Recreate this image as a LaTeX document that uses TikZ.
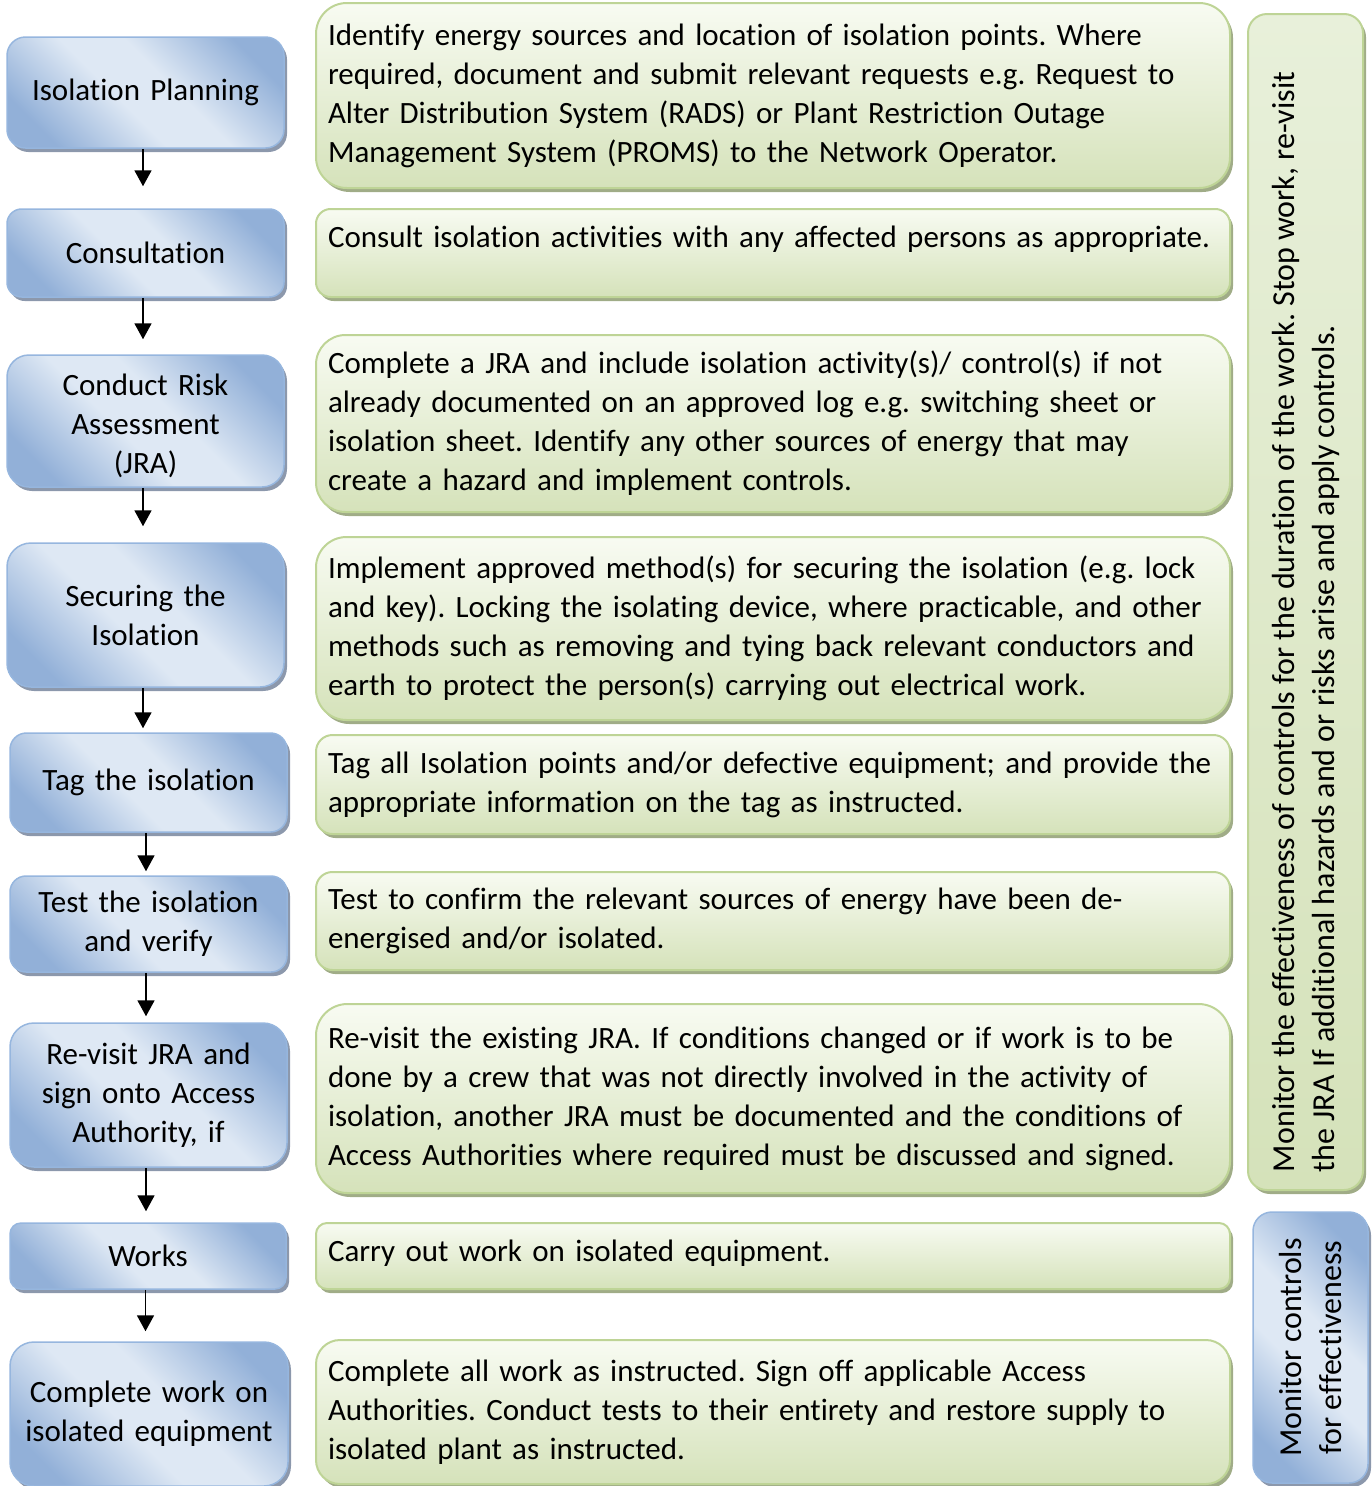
\documentclass[tikz,border=0pt]{standalone}
\usepackage{fontspec}
\setmainfont{Carlito}[Ligatures=NoCommon]
\usepackage{graphicx}
\usetikzlibrary{arrows.meta,shadows}
\definecolor{bdk}{RGB}{146,176,216}
\definecolor{blt}{RGB}{222,232,244}
\definecolor{bbrd}{RGB}{150,182,222}
\definecolor{bsh}{RGB}{140,152,172}
\definecolor{gtop}{RGB}{248,251,242}
\definecolor{gbot}{RGB}{213,226,186}
\definecolor{gvtop}{RGB}{232,240,218}
\definecolor{gbrd}{RGB}{190,212,150}
\definecolor{gsh}{RGB}{160,172,135}
\pgfdeclarehorizontalshading{bluediag}{100bp}{color(0bp)=(bdk); color(24bp)=(bdk); color(44bp)=(blt); color(56bp)=(blt); color(76bp)=(bdk); color(100bp)=(bdk)}
\newcommand\fsz{\frenchspacing\fontsize{31}{39}\selectfont}
\newcommand\fszv{\frenchspacing\fontsize{32}{40}\selectfont}
\tikzset{
  bbox/.style={draw=bbrd, line width=1.5pt, shading=bluediag, shading angle=45,
    drop shadow={shadow xshift=3pt, shadow yshift=-4pt, fill=bsh, opacity=1},
    align=center, font=\fsz, inner sep=0pt},
  gbox/.style={draw=gbrd, line width=2pt, top color=gtop, bottom color=gbot,
    drop shadow={shadow xshift=3pt, shadow yshift=-4pt, fill=gsh, opacity=1},
    align=left, font=\fsz, inner sep=0pt},
  gvbox/.style={draw=gbrd, line width=2pt, top color=gvtop, bottom color=gbot,
    drop shadow={shadow xshift=3pt, shadow yshift=-4pt, fill=gsh, opacity=1},
    font=\fszv, inner sep=0pt},
  arr/.style={-{Triangle[width=17pt,length=16pt]}, line width=1.8pt, black}
}
% style, name, x1, y1, x2, y2, padding, text
\newcommand\mkbox[8]{%
  \pgfmathsetmacro\bw{#5-#3}\pgfmathsetmacro\bh{#6-#4}%
  \pgfmathsetmacro\br{min(\bw,\bh)/6}\pgfmathsetmacro\tw{\bw-2*#7}%
  \node[#1, rounded corners=\br pt, minimum width=\bw pt, minimum height=\bh pt,
        text width=\tw pt] (#2) at ({(#3+#5)/2},{(#4+#6)/2}) {#8};}
\begin{document}
\begin{tikzpicture}[x=1pt,y=-1pt]
\clip (0,0) rectangle (1372,1486);
% left column
\mkbox{bbox}{b1}{7}{37}{284}{148}{2}{Isolation Planning}
\mkbox{bbox}{b2}{7}{209}{284}{297}{2}{Consultation}
\mkbox{bbox, text height=32pt}{b3}{7}{355}{284}{487}{2}{Conduct Risk\\Assessment\\(JRA)}
\mkbox{bbox}{b4}{7}{543}{284}{687}{2}{Securing the\\Isolation}
\mkbox{bbox}{b5}{10}{733}{287}{832}{2}{Tag the isolation}
\mkbox{bbox}{b6}{10}{876}{287}{972}{2}{Test the isolation\\and verify}
\mkbox{bbox}{b7}{10}{1023}{287}{1167}{2}{Re-visit JRA and\\sign onto Access\\Authority, if}
\mkbox{bbox}{b8}{10}{1223}{286}{1289}{2}{Works}
\mkbox{bbox}{b9}{10}{1342}{288}{1486}{2}{Complete work on\\isolated equipment}
% middle column
\mkbox{gbox}{g1}{316}{3}{1230}{188}{12}{\mbox{Identify energy sources and location of isolation points. Where}\\\mbox{required, document and submit relevant requests e.g. Request to}\\\mbox{Alter Distribution System (RADS) or Plant Restriction Outage}\\\mbox{Management System (PROMS) to the Network Operator.}}
\mkbox{gbox, text depth=33pt}{g2}{316}{209}{1230}{297}{12}{\mbox{Consult isolation activities with any affected persons as appropriate.}}
\mkbox{gbox}{g3}{316}{335}{1230}{512}{12}{\mbox{Complete a JRA and include isolation activity(s)/ control(s) if not}\\\mbox{already documented on an approved log e.g. switching sheet or}\\\mbox{isolation sheet. Identify any other sources of energy that may}\\\mbox{create a hazard and implement controls.}}
\mkbox{gbox}{g4}{316}{537}{1230}{720}{12}{\mbox{Implement approved method(s) for securing the isolation (e.g. lock}\\\mbox{and key). Locking the isolating device, where practicable, and other}\\\mbox{methods such as removing and tying back relevant conductors and}\\\mbox{earth to protect the person(s) carrying out electrical work.}}
\mkbox{gbox}{g5}{316}{735}{1230}{834}{12}{\mbox{Tag all Isolation points and/or defective equipment; and provide the}\\\mbox{appropriate information on the tag as instructed.}}
\mkbox{gbox}{g6}{316}{872}{1230}{970}{12}{\mbox{Test to confirm the relevant sources of energy have been de-}\\\mbox{energised and/or isolated.}}
\mkbox{gbox}{g7}{316}{1004}{1230}{1193}{12}{\mbox{Re-visit the existing JRA. If conditions changed or if work is to be}\\\mbox{done by a crew that was not directly involved in the activity of}\\\mbox{isolation, another JRA must be documented and the conditions of}\\\mbox{Access Authorities where required must be discussed and signed.}}
\mkbox{gbox, text depth=10pt}{g8}{316}{1223}{1230}{1289}{12}{\mbox{Carry out work on isolated equipment.}}
\mkbox{gbox}{g9}{316}{1340}{1230}{1484}{12}{\mbox{Complete all work as instructed. Sign off applicable Access}\\\mbox{Authorities. Conduct tests to their entirety and restore supply to}\\\mbox{isolated plant as instructed.}}
% right column
\node[gvbox, rounded corners=19pt, minimum width=115pt, minimum height=1176pt] (mon) at (1305.5,602)
  {\rotatebox{90}{\parbox{1140pt}{\raggedright\mbox{Monitor the effectiveness of controls for the duration of the work. Stop work, re-visit}\\\mbox{the JRA If additional hazards and or risks arise and apply controls.}}}};
\node[bbox, font=\fszv, rounded corners=19pt, minimum width=115pt, minimum height=271pt] (mce) at (1310.5,1347.5)
  {\rotatebox{90}{\parbox{260pt}{\centering Monitor controls\\for effectiveness}}};
% arrows
\draw[arr, shorten >=22pt] ([xshift=-2.5pt]b1.south) -- ([xshift=-2.5pt]b1.south |- b2.north);
\draw[arr, shorten >=15pt] ([xshift=-2.5pt]b2.south) -- ([xshift=-2.5pt]b2.south |- b3.north);
\draw[arr, shorten >=16pt] ([xshift=-2.5pt]b3.south) -- ([xshift=-2.5pt]b3.south |- b4.north);
\draw[arr, shorten >=4pt] ([xshift=-2.5pt]b4.south) -- ([xshift=-2.5pt]b4.south |- b5.north);
\draw[arr, shorten >=4pt] ([xshift=-2.5pt]b5.south) -- ([xshift=-2.5pt]b5.south |- b6.north);
\draw[arr, shorten >=6pt] ([xshift=-2.5pt]b6.south) -- ([xshift=-2.5pt]b6.south |- b7.north);
\draw[arr, shorten >=11pt] ([xshift=-2.5pt]b7.south) -- ([xshift=-2.5pt]b7.south |- b8.north);
\draw[arr, shorten >=10pt] ([xshift=-2.5pt]b8.south) -- ([xshift=-2.5pt]b8.south |- b9.north);
\end{tikzpicture}
\end{document}
